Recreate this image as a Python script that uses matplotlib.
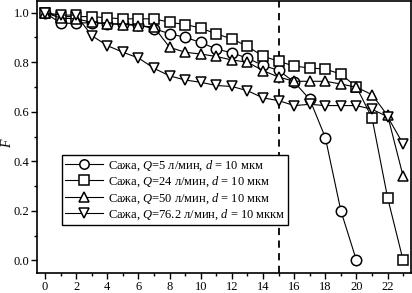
import numpy as np
import matplotlib
matplotlib.use('Agg')
import matplotlib.pyplot as plt

plt.rcParams['font.family'] = 'Liberation Serif'
plt.rcParams['mathtext.fontset'] = 'custom'
plt.rcParams['mathtext.rm'] = 'Liberation Serif'
plt.rcParams['mathtext.it'] = 'Liberation Serif:italic'

# values
x_q5 = np.arange(0, 21)
f_q5 = [1.0, 0.957, 0.957, 0.96, 0.955, 0.955, 0.95, 0.935, 0.915, 0.90, 0.88,
        0.853, 0.838, 0.816, 0.787, 0.767, 0.72, 0.65, 0.496, 0.20, 0.0]

x_q24 = np.arange(0, 24)
f_q24 = [1.0, 0.984, 0.984, 0.984, 0.979, 0.975, 0.975, 0.975, 0.961, 0.952, 0.938,
         0.914, 0.894, 0.864, 0.824, 0.804, 0.784, 0.777, 0.772, 0.752, 0.70,
         0.575, 0.253, 0.0]

x_q50 = np.arange(0, 24)
f_q50 = [1.0, 0.978, 0.975, 0.961, 0.955, 0.952, 0.948, 0.941, 0.86, 0.84, 0.833,
         0.823, 0.809, 0.80, 0.766, 0.74, 0.723, 0.723, 0.723, 0.712, 0.699,
         0.669, 0.585, 0.339]

x_q76 = np.arange(0, 24)
f_q76 = [1.0, 0.99, 0.99, 0.907, 0.867, 0.84, 0.817, 0.775, 0.745, 0.728, 0.719,
         0.706, 0.702, 0.685, 0.656, 0.645, 0.625, 0.63, 0.625, 0.625, 0.625,
         0.61, 0.58, 0.47]

labels = ['Сажа, $Q$=5 л/мин, $d$ = 10 мкм',
          'Сажа, $Q$=24 л/мин, $d$ = 10 мкм',
          'Сажа, $Q$=50 л/мин, $d$ = 10 мкм',
          'Сажа, $Q$=76.2 л/мин, $d$ = 10 мккм']

fig = plt.figure(figsize=(4.12, 2.93), dpi=100)
ax = fig.add_axes([0.0905, 0.067, 0.907, 0.9305])

style = dict(color='black', lw=0.8, ms=7.5, mfc='white', mec='black', mew=1.1)
ax.plot(x_q5, f_q5, marker='o', label=labels[0], **style)
ax.plot(x_q24, f_q24, marker='s', label=labels[1], **style)
ax.plot(x_q50, f_q50, marker='^', label=labels[2], **style)
ax.plot(x_q76, f_q76, marker='v', label=labels[3], **style)

ax.axvline(15, color='black', ls=(0, (4, 3)), lw=1.3, zorder=0)

ax.set_xlim(-0.5, 23.5)
ax.set_ylim(-0.052, 1.048)
ax.set_xticks(np.arange(0, 23, 2))
ax.set_xticks(np.arange(0, 24, 1), minor=True)
ax.set_yticks(np.arange(0, 1.01, 0.2))
ax.set_yticks(np.arange(0, 1.05, 0.1), minor=True)
ax.set_yticklabels(['%.1f' % v for v in np.arange(0, 1.01, 0.2)])
ax.tick_params(which='major', direction='out', length=4, width=1, labelsize=9, pad=1.5)
ax.tick_params(which='minor', direction='out', length=2.5, width=1)
for s in ax.spines.values():
    s.set_linewidth(1.2)

ax.set_ylabel('$F$', fontsize=10, labelpad=0)
ax.yaxis.set_label_coords(-0.063, 0.48)

ax.legend(loc='upper left', bbox_to_anchor=(0.066, 0.434), fontsize=9,
          frameon=True, fancybox=False, edgecolor='black', framealpha=1,
          handlelength=3.0, labelspacing=0.15, borderpad=0.25,
          handletextpad=0.4, borderaxespad=0, markerscale=0.9)

fig.savefig('out.png', dpi=100)
